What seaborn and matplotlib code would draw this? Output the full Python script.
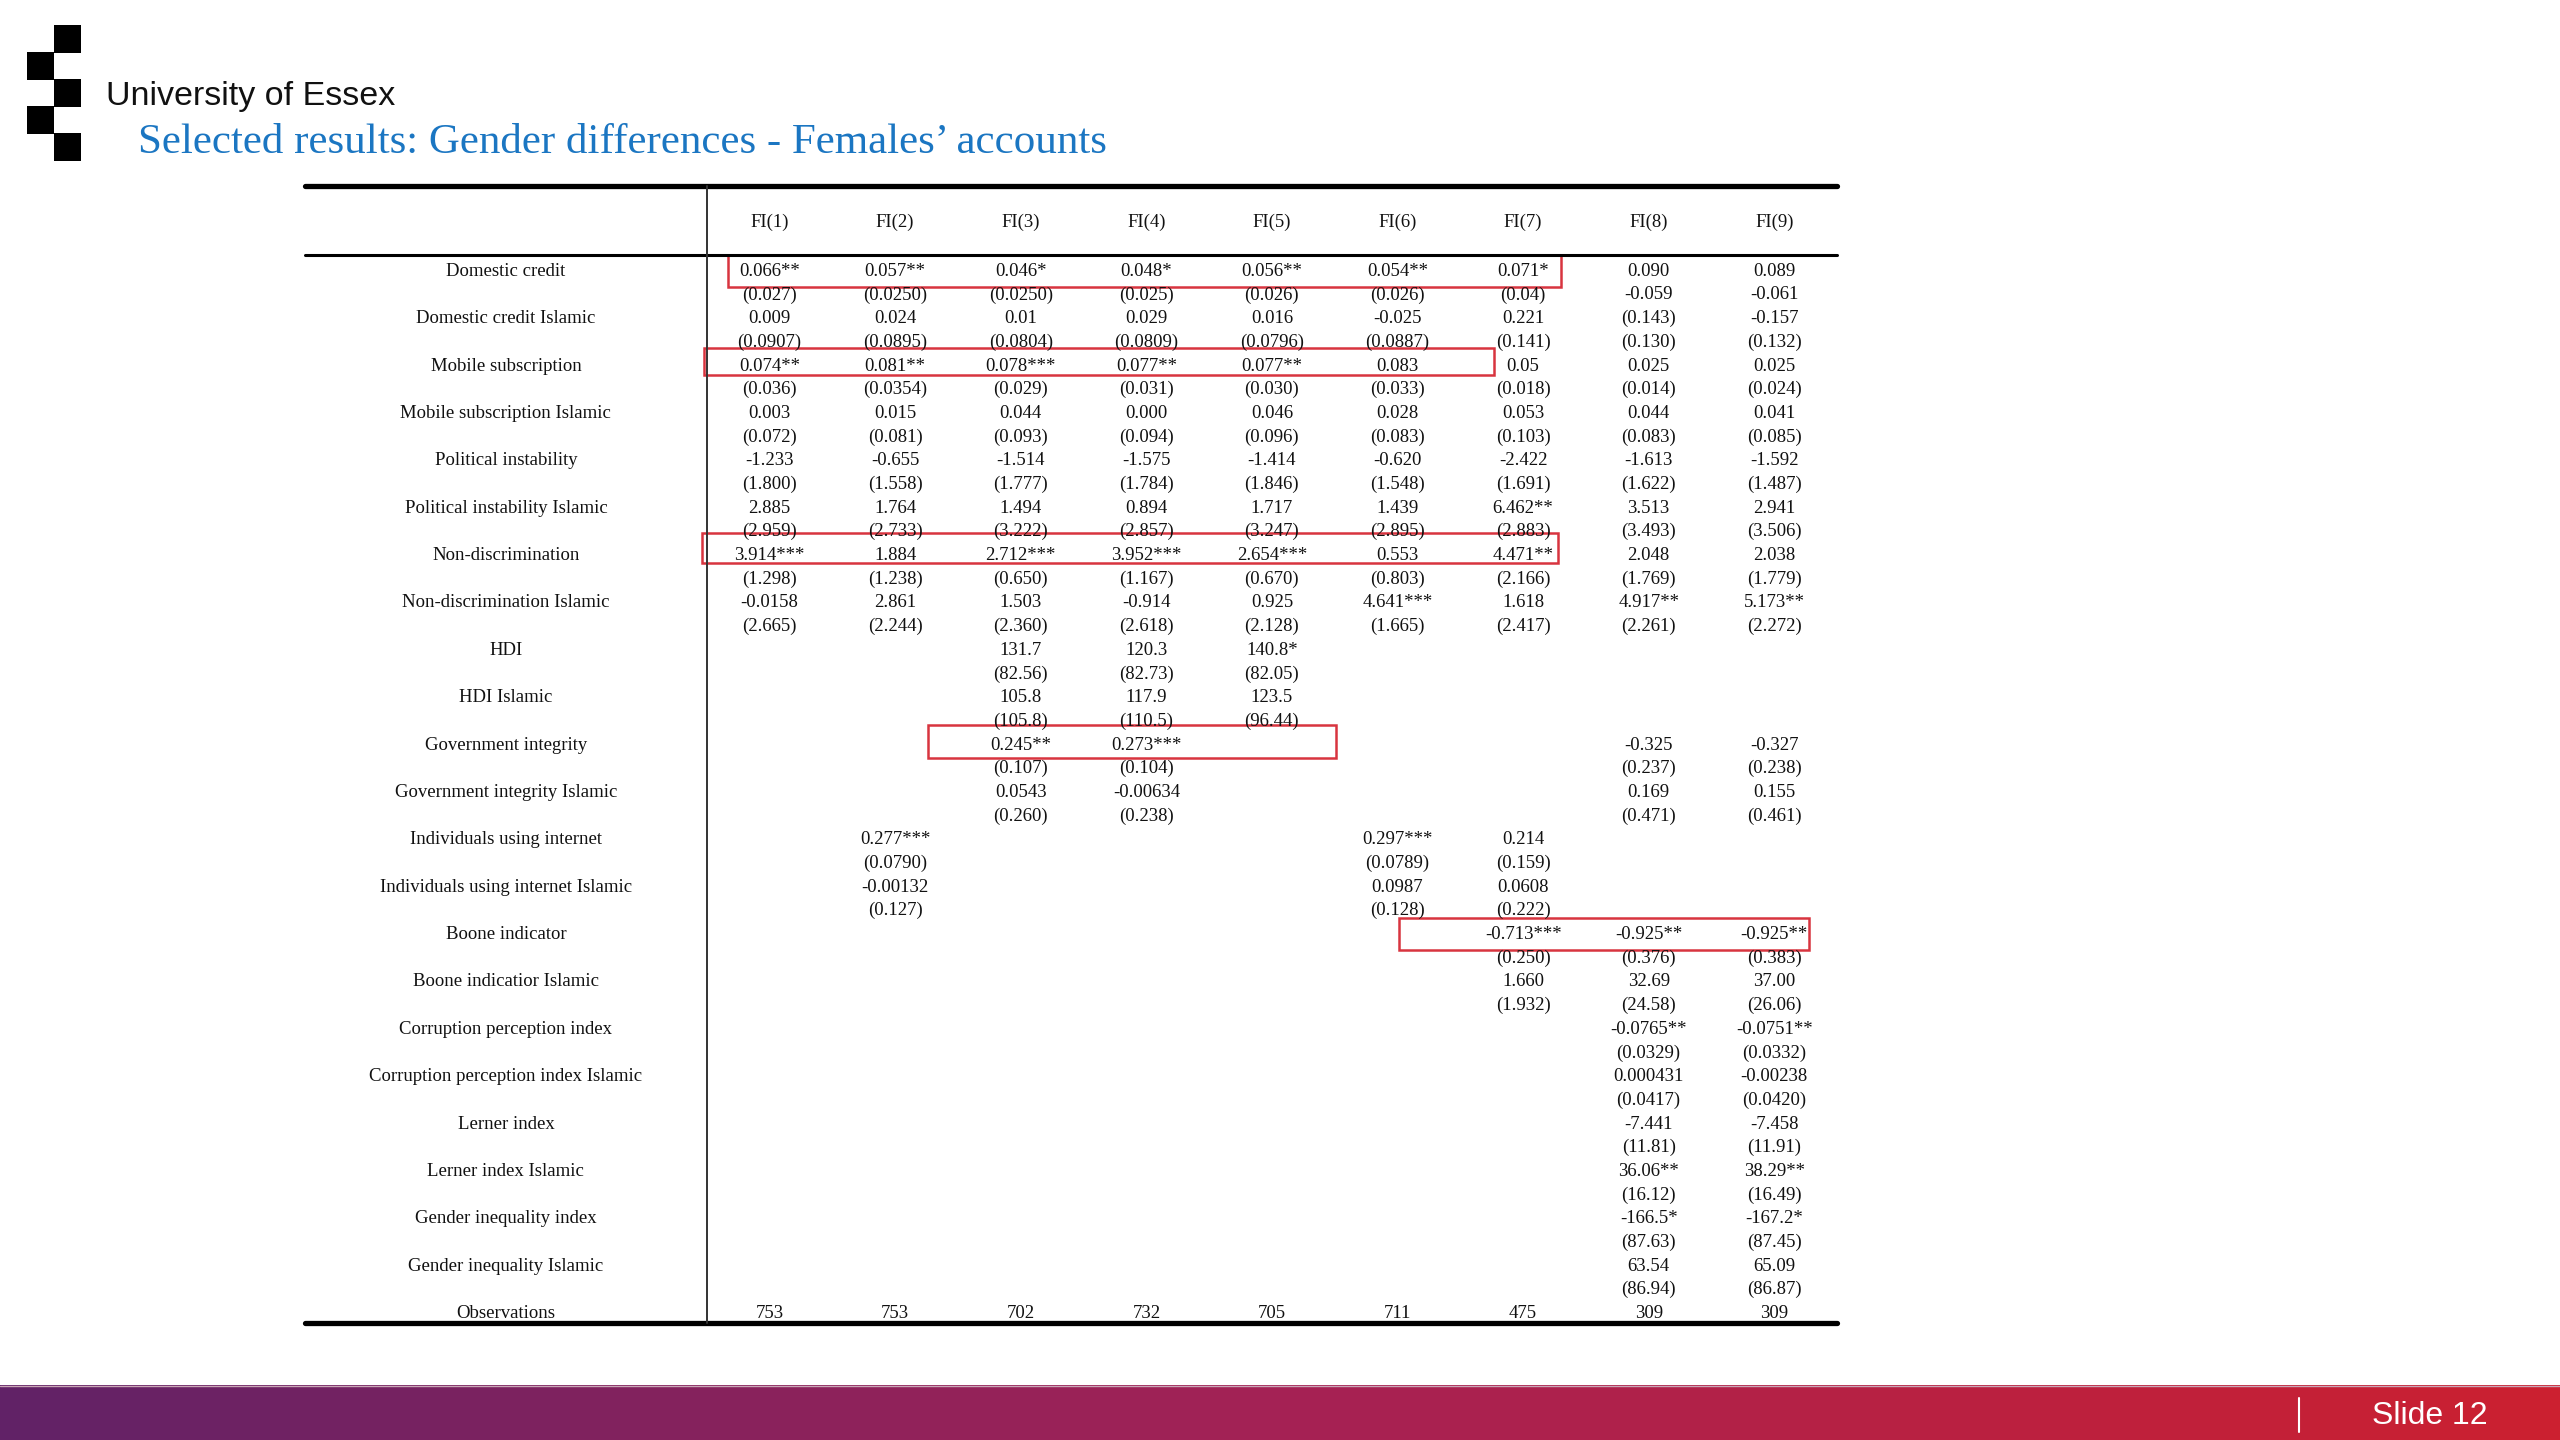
import numpy as np
import pandas as pd
import matplotlib
matplotlib.use('Agg')
import matplotlib.pyplot as plt
import seaborn as sns
from matplotlib.colors import ListedColormap, LinearSegmentedColormap
from matplotlib.patches import Rectangle

# table content
models = ['FI(1)', 'FI(2)', 'FI(3)', 'FI(4)', 'FI(5)', 'FI(6)', 'FI(7)', 'FI(8)', 'FI(9)']

variables = ['Domestic credit', 'Domestic credit Islamic', 'Mobile subscription',
             'Mobile subscription Islamic', 'Political instability',
             'Political instability Islamic', 'Non-discrimination',
             'Non-discrimination Islamic', 'HDI', 'HDI Islamic',
             'Government integrity', 'Government integrity Islamic',
             'Individuals using internet', 'Individuals using internet Islamic',
             'Boone indicator', 'Boone indicatior Islamic',
             'Corruption perception index', 'Corruption perception index Islamic',
             'Lerner index', 'Lerner index Islamic', 'Gender inequality index',
             'Gender inequality Islamic']

coefs = [
    ['0.066**', '0.057**', '0.046*', '0.048*', '0.056**', '0.054**', '0.071*', '0.090', '0.089'],
    ['0.009', '0.024', '0.01', '0.029', '0.016', '-0.025', '0.221', '(0.143)', '-0.157'],
    ['0.074**', '0.081**', '0.078***', '0.077**', '0.077**', '0.083', '0.05', '0.025', '0.025'],
    ['0.003', '0.015', '0.044', '0.000', '0.046', '0.028', '0.053', '0.044', '0.041'],
    ['-1.233', '-0.655', '-1.514', '-1.575', '-1.414', '-0.620', '-2.422', '-1.613', '-1.592'],
    ['2.885', '1.764', '1.494', '0.894', '1.717', '1.439', '6.462**', '3.513', '2.941'],
    ['3.914***', '1.884', '2.712***', '3.952***', '2.654***', '0.553', '4.471**', '2.048', '2.038'],
    ['-0.0158', '2.861', '1.503', '-0.914', '0.925', '4.641***', '1.618', '4.917**', '5.173**'],
    ['', '', '131.7', '120.3', '140.8*', '', '', '', ''],
    ['', '', '105.8', '117.9', '123.5', '', '', '', ''],
    ['', '', '0.245**', '0.273***', '', '', '', '-0.325', '-0.327'],
    ['', '', '0.0543', '-0.00634', '', '', '', '0.169', '0.155'],
    ['', '0.277***', '', '', '', '0.297***', '0.214', '', ''],
    ['', '-0.00132', '', '', '', '0.0987', '0.0608', '', ''],
    ['', '', '', '', '', '', '-0.713***', '-0.925**', '-0.925**'],
    ['', '', '', '', '', '', '1.660', '32.69', '37.00'],
    ['', '', '', '', '', '', '', '-0.0765**', '-0.0751**'],
    ['', '', '', '', '', '', '', '0.000431', '-0.00238'],
    ['', '', '', '', '', '', '', '-7.441', '-7.458'],
    ['', '', '', '', '', '', '', '36.06**', '38.29**'],
    ['', '', '', '', '', '', '', '-166.5*', '-167.2*'],
    ['', '', '', '', '', '', '', '63.54', '65.09'],
]

ses = [
    ['(0.027)', '(0.0250)', '(0.0250)', '(0.025)', '(0.026)', '(0.026)', '(0.04)', '-0.059', '-0.061'],
    ['(0.0907)', '(0.0895)', '(0.0804)', '(0.0809)', '(0.0796)', '(0.0887)', '(0.141)', '(0.130)', '(0.132)'],
    ['(0.036)', '(0.0354)', '(0.029)', '(0.031)', '(0.030)', '(0.033)', '(0.018)', '(0.014)', '(0.024)'],
    ['(0.072)', '(0.081)', '(0.093)', '(0.094)', '(0.096)', '(0.083)', '(0.103)', '(0.083)', '(0.085)'],
    ['(1.800)', '(1.558)', '(1.777)', '(1.784)', '(1.846)', '(1.548)', '(1.691)', '(1.622)', '(1.487)'],
    ['(2.959)', '(2.733)', '(3.222)', '(2.857)', '(3.247)', '(2.895)', '(2.883)', '(3.493)', '(3.506)'],
    ['(1.298)', '(1.238)', '(0.650)', '(1.167)', '(0.670)', '(0.803)', '(2.166)', '(1.769)', '(1.779)'],
    ['(2.665)', '(2.244)', '(2.360)', '(2.618)', '(2.128)', '(1.665)', '(2.417)', '(2.261)', '(2.272)'],
    ['', '', '(82.56)', '(82.73)', '(82.05)', '', '', '', ''],
    ['', '', '(105.8)', '(110.5)', '(96.44)', '', '', '', ''],
    ['', '', '(0.107)', '(0.104)', '', '', '', '(0.237)', '(0.238)'],
    ['', '', '(0.260)', '(0.238)', '', '', '', '(0.471)', '(0.461)'],
    ['', '(0.0790)', '', '', '', '(0.0789)', '(0.159)', '', ''],
    ['', '(0.127)', '', '', '', '(0.128)', '(0.222)', '', ''],
    ['', '', '', '', '', '', '(0.250)', '(0.376)', '(0.383)'],
    ['', '', '', '', '', '', '(1.932)', '(24.58)', '(26.06)'],
    ['', '', '', '', '', '', '', '(0.0329)', '(0.0332)'],
    ['', '', '', '', '', '', '', '(0.0417)', '(0.0420)'],
    ['', '', '', '', '', '', '', '(11.81)', '(11.91)'],
    ['', '', '', '', '', '', '', '(16.12)', '(16.49)'],
    ['', '', '', '', '', '', '', '(87.63)', '(87.45)'],
    ['', '', '', '', '', '', '', '(86.94)', '(86.87)'],
]

observations = ['753', '753', '702', '732', '705', '711', '475', '309', '309']

# red highlight boxes on the slide, in table cell units (x0, x1, y0, y1)
highlight_boxes = [(0.17, 6.80, -0.08, 1.27), (-0.02, 6.27, 3.84, 4.98),
                   (-0.04, 6.78, 11.65, 12.91), (1.76, 5.01, 19.75, 21.14),
                   (5.51, 8.78, 27.9, 29.24)]

# interleave coefficients and standard errors, observations last
lines_txt = []
for c, s in zip(coefs, ses):
    lines_txt.append(c)
    lines_txt.append(s)
lines_txt.append(observations)
annot = np.array(lines_txt, dtype=object)
df = pd.DataFrame(np.zeros(annot.shape), columns=models)

sns.set_style('white')
plt.rcParams['font.family'] = ['Liberation Serif', 'DejaVu Serif']

W, H = 2560, 1440
fig = plt.figure(figsize=(25.6, 14.4), dpi=100)

# slide furniture in pixel coordinates
bg = fig.add_axes([0, 0, 1, 1])
bg.set_xlim(0, W)
bg.set_ylim(H, 0)
bg.axis('off')
for x0, y0 in [(54, 25), (27, 52), (54, 79), (27, 106), (54, 133)]:
    bg.add_patch(Rectangle((x0, y0), 27, 27.5, color='black', lw=0))
bg.text(106, 105, 'University of Essex', family=['Liberation Sans', 'DejaVu Sans'],
        fontsize=24.5, color='#111111', ha='left', va='baseline')
bg.text(138, 153, 'Selected results: Gender differences - Females\u2019 accounts',
        fontsize=31, color='#1b76c2', ha='left', va='baseline')

bar_cmap = LinearSegmentedColormap.from_list('bar', ['#612267', '#a52255', '#cc2030'])
bg.imshow(np.linspace(0, 1, 256)[None, :], cmap=bar_cmap, aspect='auto',
          extent=[0, W, H, 1385])
bg.plot([0, W], [1385.5, 1385.5], color='#c9a6b6', lw=1)
bg.plot([2299, 2299], [1398, 1432], color='white', lw=1.5)
bg.text(2430, 1416, 'Slide 12', family=['Liberation Sans', 'DejaVu Sans'],
        fontsize=23, color='white', ha='center', va='center')
bg.set_xlim(0, W)
bg.set_ylim(H, 0)

# the regression table
left, right, top, bottom = 305, 1837, 186, 1323
ax = fig.add_axes([left / W, 1 - bottom / H, (right - left) / W, (bottom - top) / H])
sns.heatmap(df, annot=annot, fmt='', cmap=ListedColormap(['white']), vmin=0, vmax=1,
            cbar=False, ax=ax, xticklabels=False, yticklabels=False,
            annot_kws={'fontsize': 13.5, 'color': '#111111'})
ax.set_xlim(-3.2, len(models))
ax.set_ylim(annot.shape[0], -3)
ax.set_facecolor('white')
# nudge the cell texts down a touch, as on the slide
for t in ax.texts:
    x, y = t.get_position()
    t.set_position((x, y + 0.1))

for j, m in enumerate(models):
    ax.text(j + 0.5, -1.45, m, ha='center', va='center', fontsize=13.5, color='#111111')
for i, v in enumerate(variables + ['Observations']):
    ax.text(-1.6, 2 * i + 0.6, v, ha='center', va='center', fontsize=13.5, color='#111111')

ax.axhline(-3, color='black', lw=3.8, clip_on=False)
ax.axhline(-0.1, color='black', lw=2.2, clip_on=False)
ax.axhline(annot.shape[0], color='black', lw=3.8, clip_on=False)
ax.plot([0, 0], [-3, annot.shape[0]], color='#333333', lw=1.4, clip_on=False)

for x0, x1, y0, y1 in highlight_boxes:
    ax.add_patch(Rectangle((x0, y0), x1 - x0, y1 - y0, fill=False,
                           edgecolor='#d8343f', lw=1.8, clip_on=False))

fig.savefig('out.png', dpi=100, facecolor='white')
